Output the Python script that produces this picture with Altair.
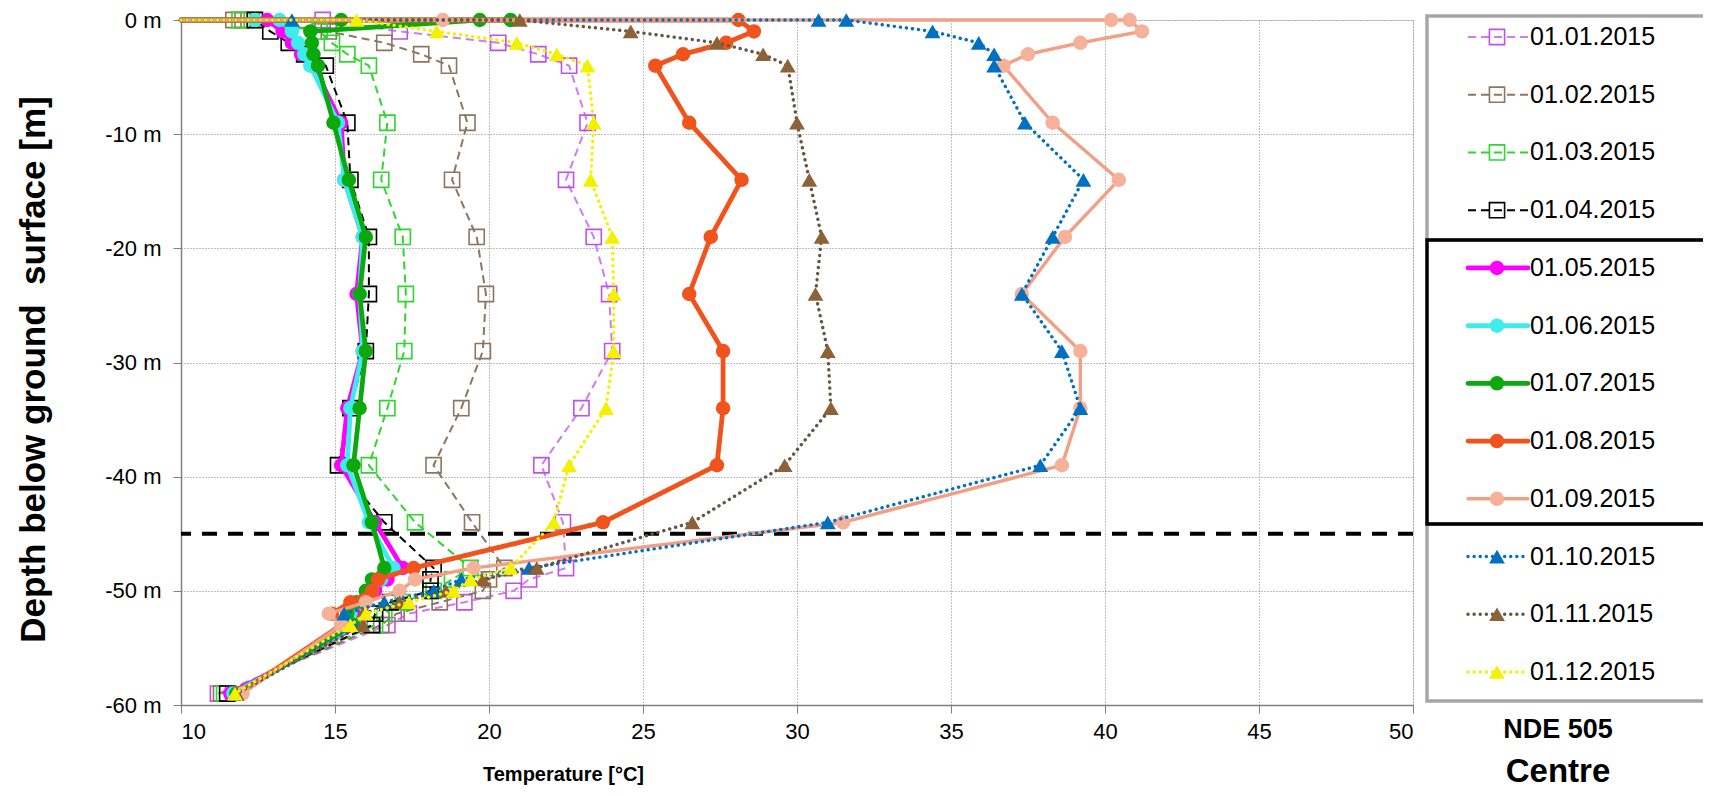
import altair as alt
import pandas as pd

# ---------------- data ----------------
SERIES = ["01.01.2015", "01.02.2015", "01.03.2015", "01.04.2015",
          "01.05.2015", "01.06.2015", "01.07.2015", "01.08.2015",
          "01.09.2015", "01.10.2015", "01.11.2015", "01.12.2015"]

SURFACE_DEPTH = 0
SUB_DEPTHS = [-1, -2, -3, -4, -9, -14, -19, -24, -29, -34, -39, -44,
              -48, -49, -50, -51, -52, -53, -59]

# temperatures at the ground surface (0 m), line starts at the axis
SURF_01 = [10.0, 14.6]
SURF_02 = [10.0, 11.7, 12.0]
SURF_03 = [10.0, 11.9, 12.3]
SURF_04 = [10.0, 12.4]
SURF_05 = [10.0, 12.8]
SURF_06 = [10.0, 12.4, 13.2]
SURF_07 = [10.0, 15.2, 20.7, 19.7]
SURF_08 = [10.0, 28.1]
SURF_09 = [10.0, 18.5, 40.2, 40.8]
SURF_10 = [10.0, 13.6, 30.7, 31.6]
SURF_11 = [10.0, 21.0]
SURF_12 = [10.0, 15.7]

# temperatures at SUB_DEPTHS
DEEP_01 = [17.1, 20.3, 21.6, 22.6, 23.2, 22.5, 23.4, 23.9, 24.0, 23.0, 21.7, 22.4, 22.5, 21.3, 20.8, 19.2, 17.4, 16.7, 11.2]
DEEP_02 = [14.8, 16.6, 17.8, 18.7, 19.3, 18.8, 19.6, 19.9, 19.8, 19.1, 18.2, 19.45, 20.5, 20.0, 19.8, 18.4, 17.0, 16.5, 11.3]
DEEP_03 = [14.5, 14.9, 15.4, 16.1, 16.7, 16.5, 17.2, 17.3, 17.25, 16.7, 16.1, 17.6, 19.4, 18.8, 18.2, 17.2, 16.6, 16.3, 11.4]
DEEP_04 = [12.9, 13.5, 14.0, 14.7, 15.4, 15.5, 16.1, 16.1, 16.0, 15.5, 15.1, 16.6, 18.2, 18.1, 18.1, 16.8, 16.3, 16.2, 11.5]
DEEP_05 = [13.3, 13.6, 13.9, 14.3, 15.2, 15.3, 15.9, 15.7, 15.9, 15.4, 15.2, 16.3, 17.2, 16.7, 16.3, 15.9, 15.6, 15.8, 11.6]
DEEP_06 = [13.6, 13.8, 14.0, 14.2, 15.1, 15.3, 15.9, 15.8, 15.9, 15.5, 15.4, 16.1, 16.9, 16.5, 16.2, 15.8, 15.5, 15.7, 11.7]
DEEP_07 = [14.2, 14.25, 14.3, 14.45, 14.95, 15.45, 16.0, 15.8, 16.0, 15.8, 15.6, 16.2, 16.6, 16.2, 16.0, 15.7, 15.4, 15.6, 11.8]
DEEP_08 = [28.6, 27.7, 26.3, 25.4, 26.5, 28.2, 27.2, 26.5, 27.6, 27.6, 27.4, 23.7, 17.55, 16.4, 16.2, 15.5, 14.9, 15.2, 11.9]
DEEP_09 = [41.2, 39.2, 37.5, 36.7, 38.3, 40.45, 38.7, 37.3, 39.2, 39.2, 38.6, 31.5, 19.5, 17.6, 17.1, 16.0, 14.8, 15.2, 12.0]
DEEP_10 = [34.4, 35.9, 36.4, 36.4, 37.4, 39.3, 38.3, 37.3, 38.6, 39.2, 37.9, 31.0, 21.3, 19.1, 18.2, 16.6, 15.3, 15.6, 11.8]
DEEP_11 = [24.6, 27.4, 28.9, 29.7, 30.0, 30.4, 30.8, 30.6, 31.0, 31.1, 29.6, 26.6, 21.55, 19.8, 18.6, 17.1, 15.9, 15.9, 11.8]
DEEP_12 = [18.3, 20.9, 22.2, 23.2, 23.4, 23.3, 24.0, 24.05, 24.05, 23.8, 22.6, 22.1, 20.7, 19.4, 18.85, 17.4, 16.0, 15.5, 11.75]

SURF = [SURF_01, SURF_02, SURF_03, SURF_04, SURF_05, SURF_06,
        SURF_07, SURF_08, SURF_09, SURF_10, SURF_11, SURF_12]
DEEP = [DEEP_01, DEEP_02, DEEP_03, DEEP_04, DEEP_05, DEEP_06,
        DEEP_07, DEEP_08, DEEP_09, DEEP_10, DEEP_11, DEEP_12]

THRESHOLD_DEPTH = [-45]
X_TICKS = [10, 15, 20, 25, 30, 35, 40, 45, 50]
Y_TICKS = [-60, -50, -40, -30, -20, -10, 0]
NOTE_LINES = ["NDE 505", "Centre"]
X_TITLE = "Temperature [°C]"
Y_TITLE = "Depth below ground \u00a0surface [m]"

# ---------------- styles ----------------
FONT = "Liberation Sans"
W, H = 1232, 685

LINE_COLORS = ["#CF7BF2", "#8E7560", "#2ED62E", "#000000",
               "#FF00FF", "#3DECEC", "#0DA80D", "#F0531C",
               "#F2A085", "#0070C0", "#665545", "#F2F200"]
MARK_COLORS = ["#C050E8", "#8E7560", "#2ED62E", "#000000",
               "#FF00FF", "#3DECEC", "#0DA80D", "#F0531C",
               "#F6B19A", "#0070C0", "#8D6236", "#F2F200"]
GROUP = ["sq"] * 4 + ["thick"] * 4 + ["med"] + ["dot"] * 3

GROUP_STYLE = {
    "sq":    dict(dash=[8, 5], width=2.0, cap="butt", shape="square", filled=False, size=230),
    "thick": dict(dash=[1, 0], width=4.8, cap="round", shape="circle", filled=True, size=210),
    "med":   dict(dash=[1, 0], width=3.4, cap="round", shape="circle", filled=True, size=210),
    "dot":   dict(dash=[0.1, 6], width=3.4, cap="round", shape="triangle-up", filled=True, size=250),
}

x_axis = alt.Axis(values=X_TICKS, title=X_TITLE, titleFont=FONT, titleFontSize=20,
                  titleFontWeight="bold", titleX=382, titleY=69, titleBaseline="middle",
                  titleAlign="center", labelFont=FONT, labelFontSize=22, labelColor="black",
                  labelPadding=8, tickSize=8, tickColor="#808080", domainColor="#808080",
                  domainWidth=1.5, grid=True, gridColor="#808080", gridDash=[1, 2],
                  gridWidth=1)
y_axis = alt.Axis(values=Y_TICKS, labelExpr="datum.value + ' m'", title=Y_TITLE,
                  titleFont=FONT, titleFontSize=35, titleFontWeight="bold", titleAngle=-90,
                  titleX=-148, titleY=349, titleAlign="center", titleBaseline="middle",
                  labelFont=FONT, labelFontSize=22, labelColor="black", labelPadding=12,
                  tickSize=8, tickColor="#808080", domainColor="#808080", domainWidth=1.5,
                  grid=True, gridColor="#808080", gridDash=[1, 2], gridWidth=1)

x_scale = alt.Scale(domain=[10, 50], nice=False, zero=False)
y_scale = alt.Scale(domain=[-60, 0], nice=False, zero=False)
row_scale = alt.Scale(domain=[0, 11], range=[17, 652], nice=False, zero=False)


def xenc():
    return alt.X("T:Q", scale=x_scale, axis=x_axis)


def yenc(first=False):
    return alt.Y("depth:Q", scale=y_scale, axis=y_axis if first else None)


layers = []

# threshold line
thr_df = pd.DataFrame({"depth": THRESHOLD_DEPTH})
layers.append(
    alt.Chart(thr_df).mark_rule(color="black", strokeWidth=4, strokeDash=[15, 11])
    .encode(y=yenc(first=True))
)

# series
for i, name in enumerate(SERIES):
    temps = SURF[i] + DEEP[i]
    depths = [SURFACE_DEPTH] * len(SURF[i]) + SUB_DEPTHS
    df = pd.DataFrame({"idx": list(range(len(temps))), "T": temps, "depth": depths})
    st = GROUP_STYLE[GROUP[i]]
    layers.append(
        alt.Chart(df).mark_line(color=LINE_COLORS[i], strokeWidth=st["width"],
                                strokeDash=st["dash"], strokeCap=st["cap"],
                                strokeJoin="round")
        .encode(x=xenc(), y=yenc(), order=alt.Order("idx:Q"))
    )
    if st["filled"]:
        pt = alt.Chart(df).mark_point(shape=st["shape"], filled=True, size=st["size"],
                                      color=MARK_COLORS[i], opacity=1, strokeWidth=1)
    else:
        pt = alt.Chart(df).mark_point(shape=st["shape"], filled=False, size=st["size"],
                                      color=MARK_COLORS[i], opacity=1, strokeWidth=1.6)
    layers.append(pt.transform_filter("datum.T > 10").encode(x=xenc(), y=yenc()))

# ---------------- legend ----------------
LX0, LX1 = 1246, 1527          # box edges (px from plot left)
SYM0, SYM1, SYMC, TXT = 1287, 1347, 1316, 1349
box_df = pd.DataFrame({"k": [0]})
for (y0, y1, col) in [(-4, 220, "#A6A6A6"), (504, 681, "#A6A6A6"), (220, 504, "black")]:
    layers.append(
        alt.Chart(box_df).mark_rect(fillOpacity=0, stroke=col, strokeWidth=3.5)
        .encode(x=alt.value(LX0), x2=alt.value(LX1), y=alt.value(y0), y2=alt.value(y1))
    )

for i, name in enumerate(SERIES):
    st = GROUP_STYLE[GROUP[i]]
    ldf = pd.DataFrame({"row": [i], "label": [name]})
    ly = alt.Y("row:Q", scale=row_scale, axis=None)
    layers.append(
        alt.Chart(ldf).mark_rule(color=LINE_COLORS[i], strokeWidth=st["width"],
                                 strokeDash=st["dash"], strokeCap=st["cap"])
        .encode(x=alt.value(SYM0), x2=alt.value(SYM1), y=ly)
    )
    if st["filled"]:
        lp = alt.Chart(ldf).mark_point(shape=st["shape"], filled=True, size=st["size"],
                                       color=MARK_COLORS[i], opacity=1)
    else:
        lp = alt.Chart(ldf).mark_point(shape=st["shape"], filled=False, size=st["size"],
                                       color=MARK_COLORS[i], opacity=1, strokeWidth=1.6)
    layers.append(lp.encode(x=alt.value(SYMC), y=ly))

lab_df = pd.DataFrame({"row": list(range(len(SERIES))), "label": SERIES})
layers.append(
    alt.Chart(lab_df).mark_text(align="left", baseline="middle", font=FONT, fontSize=25,
                                color="black")
    .encode(x=alt.value(TXT), y=alt.Y("row:Q", scale=row_scale, axis=None), text="label:N")
)

note_df = pd.DataFrame({"row": [0, 1], "label": NOTE_LINES})
layers.append(
    alt.Chart(note_df).mark_text(align="center", baseline="middle", font=FONT,
                                 fontWeight="bold", color="black")
    .encode(x=alt.value(1377),
            y=alt.Y("row:Q", scale=alt.Scale(domain=[0, 1], range=[710, 752]), axis=None),
            size=alt.Size("row:O", scale=alt.Scale(domain=[0, 1], range=[27, 33]), legend=None),
            text="label:N")
)

chart = (
    alt.layer(*layers)
    .resolve_scale(y="independent", size="independent")
    .properties(width=W, height=H,
                autosize=alt.AutoSizeParams(type="none"),
                padding={"left": 173, "top": 12, "right": 290, "bottom": 83})
    .configure_view(stroke=None)
    .configure(font=FONT, background="white")
)

chart.save("out.html", embed_options={"renderer": "svg", "actions": False})
